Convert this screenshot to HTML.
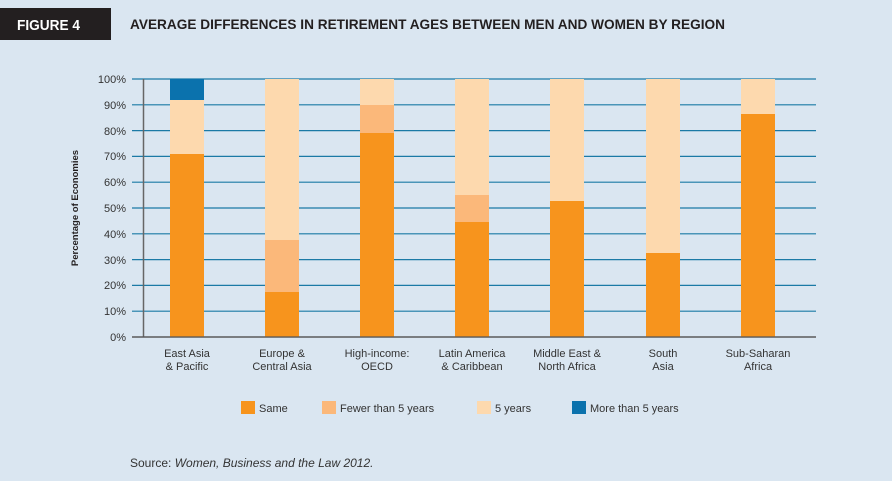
<!DOCTYPE html>
<html><head><meta charset="utf-8"><style>
html,body{margin:0;padding:0;background:#dae6f1;}
svg{display:block;font-family:"Liberation Sans",sans-serif;}
</style></head><body>
<svg width="892" height="481" viewBox="0 0 892 481" xmlns="http://www.w3.org/2000/svg">
<rect width="892" height="481" fill="#dae6f1"/>
<rect x="0" y="8" width="111" height="32" fill="#231f20"/>
<text x="17" y="30" fill="#fff" font-size="15" font-weight="bold" textLength="63" lengthAdjust="spacingAndGlyphs">FIGURE 4</text>
<text x="130" y="29" fill="#231f20" font-size="14" font-weight="bold" textLength="595" lengthAdjust="spacingAndGlyphs">AVERAGE DIFFERENCES IN RETIREMENT AGES BETWEEN MEN AND WOMEN BY REGION</text>
<g stroke="#1b7aa6" stroke-width="1.2">
<line x1="132" x2="816" y1="79" y2="79"/><line x1="132" x2="816" y1="104.8" y2="104.8"/>
<line x1="132" x2="816" y1="130.6" y2="130.6"/><line x1="132" x2="816" y1="156.4" y2="156.4"/>
<line x1="132" x2="816" y1="182.2" y2="182.2"/><line x1="132" x2="816" y1="208" y2="208"/>
<line x1="132" x2="816" y1="233.8" y2="233.8"/><line x1="132" x2="816" y1="259.6" y2="259.6"/>
<line x1="132" x2="816" y1="285.4" y2="285.4"/><line x1="132" x2="816" y1="311.2" y2="311.2"/>
</g>
<line x1="132" x2="816" y1="337" y2="337" stroke="#555" stroke-width="1.2"/>
<line x1="143.5" x2="143.5" y1="79" y2="337" stroke="#666" stroke-width="1.5"/>
<g font-size="11" fill="#333" text-anchor="end">
<text x="126" y="83">100%</text><text x="126" y="109">90%</text><text x="126" y="135">80%</text>
<text x="126" y="160">70%</text><text x="126" y="186">60%</text><text x="126" y="212">50%</text>
<text x="126" y="238">40%</text><text x="126" y="264">30%</text><text x="126" y="289">20%</text>
<text x="126" y="315">10%</text><text x="126" y="341">0%</text>
</g>
<text transform="translate(78,208) rotate(-90)" font-size="9.5" font-weight="bold" fill="#231f20" text-anchor="middle">Percentage of Economies</text>
<g>
<rect x="170" y="79" width="34" height="258" fill="#fdd9ae"/>
<rect x="170" y="79" width="34" height="21" fill="#0b72ad"/>
<rect x="170" y="154" width="34" height="183" fill="#f7941d"/>
<rect x="265" y="79" width="34" height="258" fill="#fdd9ae"/>
<rect x="265" y="240" width="34" height="97" fill="#fbb87a"/>
<rect x="265" y="292" width="34" height="45" fill="#f7941d"/>
<rect x="360" y="79" width="34" height="258" fill="#fdd9ae"/>
<rect x="360" y="105" width="34" height="232" fill="#fbb87a"/>
<rect x="360" y="133" width="34" height="204" fill="#f7941d"/>
<rect x="455" y="79" width="34" height="258" fill="#fdd9ae"/>
<rect x="455" y="195" width="34" height="142" fill="#fbb87a"/>
<rect x="455" y="222" width="34" height="115" fill="#f7941d"/>
<rect x="550" y="79" width="34" height="258" fill="#fdd9ae"/>
<rect x="550" y="201" width="34" height="136" fill="#f7941d"/>
<rect x="646" y="79" width="34" height="258" fill="#fdd9ae"/>
<rect x="646" y="253" width="34" height="84" fill="#f7941d"/>
<rect x="741" y="79" width="34" height="258" fill="#fdd9ae"/>
<rect x="741" y="114" width="34" height="223" fill="#f7941d"/>
</g>
<line x1="132" x2="816" y1="337" y2="337" stroke="#555" stroke-width="1.2"/>
<g font-size="11" fill="#333" text-anchor="middle">
<text x="187" y="357">East Asia</text><text x="187" y="370">&amp; Pacific</text>
<text x="282" y="357">Europe &amp;</text><text x="282" y="370">Central Asia</text>
<text x="377" y="357">High-income:</text><text x="377" y="370">OECD</text>
<text x="472" y="357">Latin America</text><text x="472" y="370">&amp; Caribbean</text>
<text x="567" y="357">Middle East &amp;</text><text x="567" y="370">North Africa</text>
<text x="663" y="357">South</text><text x="663" y="370">Asia</text>
<text x="758" y="357">Sub-Saharan</text><text x="758" y="370">Africa</text>
</g>
<g font-size="11" fill="#333">
<rect x="241" y="401" width="14" height="13" fill="#f7941d"/><text x="259" y="412">Same</text>
<rect x="322" y="401" width="14" height="13" fill="#fbb87a"/><text x="340" y="412">Fewer than 5 years</text>
<rect x="477" y="401" width="14" height="13" fill="#fdd9ae"/><text x="495" y="412">5 years</text>
<rect x="572" y="401" width="14" height="13" fill="#0b72ad"/><text x="590" y="412">More than 5 years</text>
</g>
<text x="130" y="467" font-size="12" fill="#333">Source: <tspan font-style="italic">Women, Business and the Law 2012.</tspan></text>
</svg>
</body></html>
